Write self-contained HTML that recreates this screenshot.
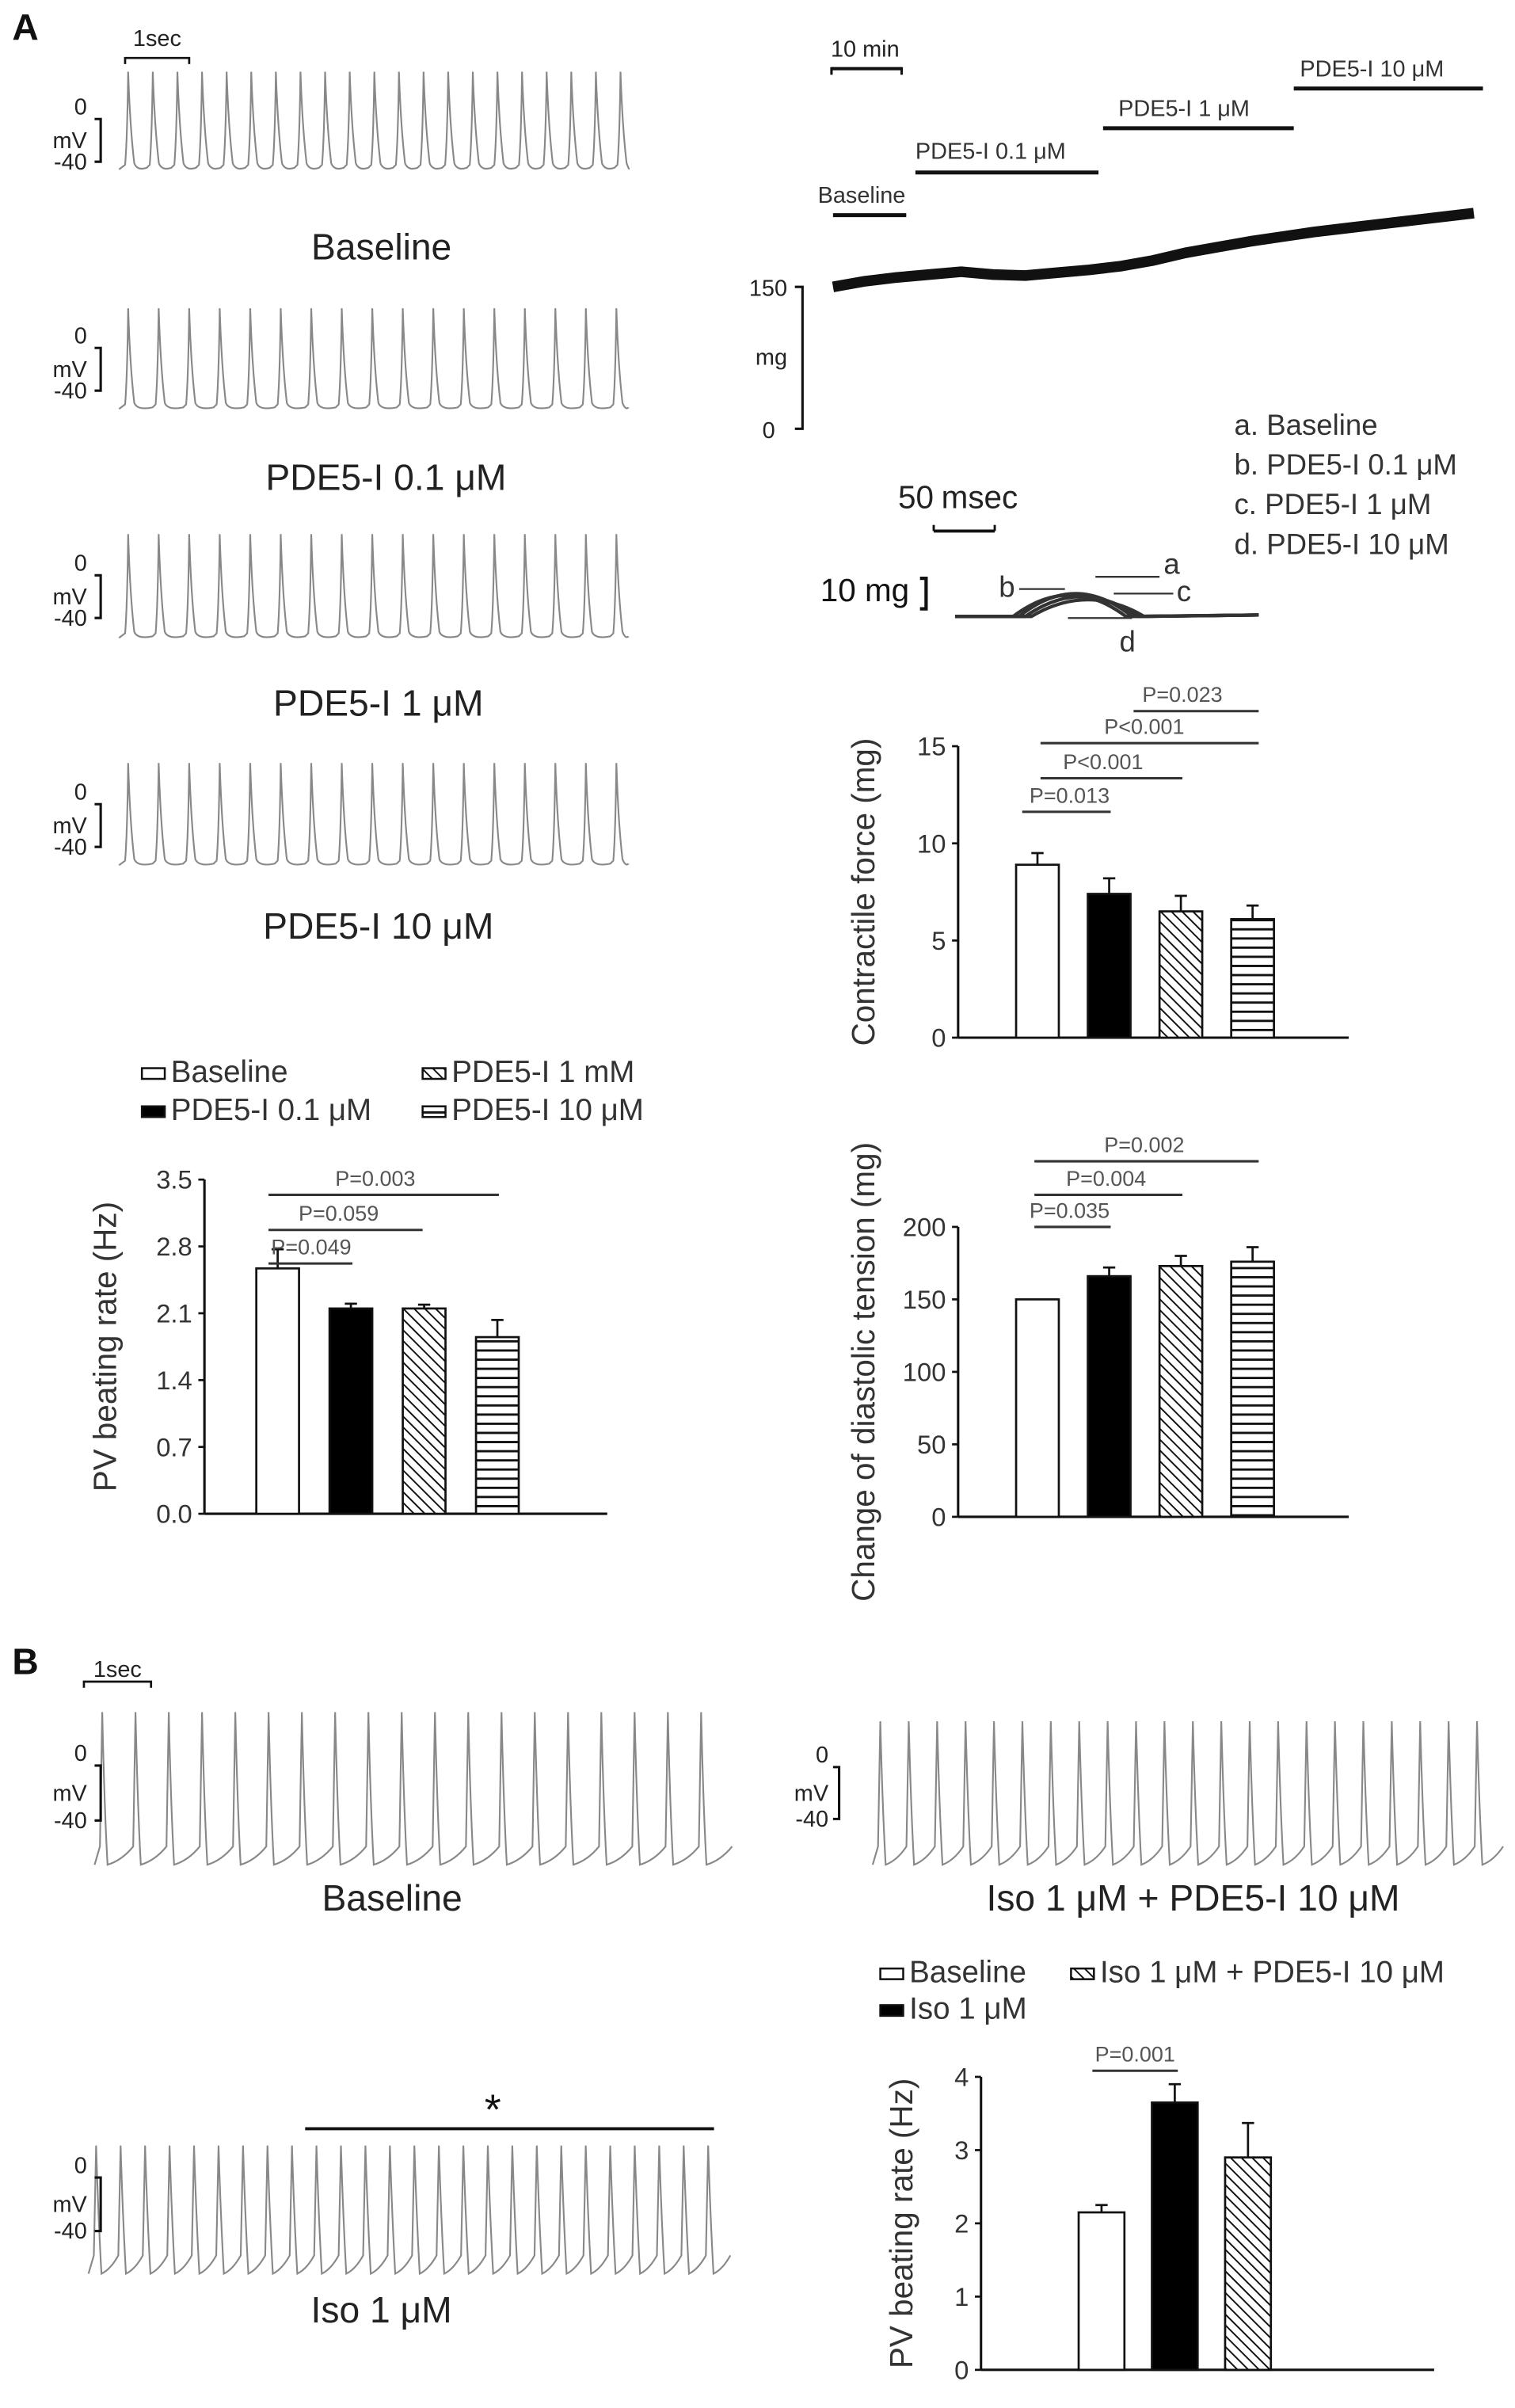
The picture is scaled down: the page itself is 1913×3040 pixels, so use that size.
<!DOCTYPE html>
<html><head><meta charset="utf-8"><style>
html,body{margin:0;padding:0;background:#fff;}
svg{display:block;font-family:"Liberation Sans",Arial,sans-serif;}
</style></head><body>
<svg id="fig" width="1913" height="3040" viewBox="0 0 993 1578" preserveAspectRatio="none" xmlns="http://www.w3.org/2000/svg">
<defs>
<pattern id="diag" patternUnits="userSpaceOnUse" width="5" height="5" patternTransform="rotate(-45)"><rect width="5" height="5" fill="#fff"/><line x1="0" y1="0" x2="0" y2="5" stroke="#111" stroke-width="2"/></pattern>
<pattern id="hstripe" patternUnits="userSpaceOnUse" width="6" height="6"><rect width="6" height="6" fill="#fff"/><line x1="0" y1="3" x2="6" y2="3" stroke="#111" stroke-width="1.5"/></pattern>
</defs>
<g id="root"></g>
</svg>
<script>
// ---------- data ----------
const forceCats=["Baseline","PDE5-I 0.1 μM","PDE5-I 1 μM","PDE5-I 10 μM"];
const forceVals=[8.9,7.4,6.5,6.1];
const forceErr=[0.6,0.8,0.8,0.7];
const forceTicks=[0,5,10,15];
const diaVals=[150,166,173,176];
const diaErr=[0,6,7,10];
const diaTicks=[0,50,100,150,200];
const rateVals=[2.57,2.15,2.15,1.85];
const rateErr=[0.2,0.05,0.04,0.18];
const rateTicks=[0,0.7,1.4,2.1,2.8,3.5];
const isoCats=["Baseline","Iso 1 μM","Iso 1 μM + PDE5-I 10 μM"];
const isoVals=[2.15,3.65,2.9];
const isoErr=[0.1,0.25,0.47];
const isoTicks=[0,1,2,3,4];
const tensionTrend=[150,156,160,163,166,163,162,165,168,172,178,186,192,198,203,208,212,216,220,224,228];

const NS="http://www.w3.org/2000/svg";
const root=document.getElementById('root');
function el(tag,attrs,parent){const e=document.createElementNS(NS,tag);for(const k in attrs)e.setAttribute(k,attrs[k]);(parent||root).appendChild(e);return e;}
function txt(x,y,s,size,anchor,fill,name){const t=el('text',{x:x,y:y,'font-size':size,'text-anchor':anchor||'start',fill:fill||'#222'});t.textContent=s;


return t;}
function line(x1,y1,x2,y2,w,c,name){const l=el('line',{x1:x1,y1:y1,x2:x2,y2:y2,stroke:c||'#111','stroke-width':w||1.5});


return l;}

txt(8,26,"A",24,'start','#111','panel-a-label').setAttribute('font-weight','bold');
txt(8,1097,"B",24,'start','#111','panel-b-label').setAttribute('font-weight','bold');

// ---------- AP traces ----------
function scaleBar(x,yTop,yBot,lx,name){
  const g=el('path',{d:`M${x-4},${yTop} H${x} V${yBot} H${x-4}`,fill:'none',stroke:'#111','stroke-width':1.6});
  
  
  txt(lx,yTop-3,"0",15,'end','#222',name+'-0mv');
  txt(lx,(yTop+yBot)/2+5,"mV",15,'end','#222',name+'-mv');
  txt(lx,yBot+5,"-40",15,'end','#222',name+'-minus40');
}
function apTraceA(x0,x1,n,top,base,name){
  const sp=(x1-x0)/(n-0.3);let d=`M${x0},${base}`;
  for(let i=0;i<n;i++){const xp=x0+6+i*sp;
    d+=` L${xp-2},${base-3} Q${xp-0.6},${base-20} ${xp},${top} Q${xp+1.2},${base-28} ${xp+4},${base-4} Q${xp+6},${base+1} ${Math.min(xp+sp-4,x1)},${base-1}`;}
  const p=el('path',{d:d,fill:'none',stroke:'#888','stroke-width':1.1});
  
  
}
function apTraceB(x0,x1,n,top,base,name){
  const sp=(x1-x0)/(n-0.2);let d=`M${x0},${base}`;
  for(let i=0;i<n;i++){const xp=x0+5+i*sp;
    d+=` L${xp-1.5},${base-12} L${xp},${top} Q${xp+1.5},${base-35} ${xp+3.5},${base} Q${xp+sp*0.6},${base-3} ${xp+sp-1.5},${base-12}`;}
  const p=el('path',{d:d,fill:'none',stroke:'#888','stroke-width':1.1});
  
  
}
el('path',{d:'M82,42 V38 H124 V42',fill:'none',stroke:'#111','stroke-width':1.4});
txt(103,30,"1sec",15,'middle','#222','one-sec-label-a');
apTraceA(78,412,21,47,111,'trace-baseline-a');scaleBar(66,78,106,57,'trace-baseline-a');
txt(250,170,"Baseline",24,'middle','#222','trace-label-baseline');
apTraceA(78,412,17,202,268,'trace-pde-01');scaleBar(66,228,256,57,'trace-pde-01');
txt(253,321,"PDE5-I 0.1 μM",24,'middle','#222','trace-label-pde-01');
apTraceA(78,412,17,350,418,'trace-pde-1');scaleBar(66,377,405,57,'trace-pde-1');
txt(248,469,"PDE5-I 1 μM",24,'middle','#222','trace-label-pde-1');
apTraceA(78,412,17,500,567,'trace-pde-10');scaleBar(66,527,555,57,'trace-pde-10');
txt(248,615,"PDE5-I 10 μM",24,'middle','#222','trace-label-pde-10');

el('path',{d:'M55,1106 V1102 H99 V1106',fill:'none',stroke:'#111','stroke-width':1.4});
txt(77,1099,"1sec",15,'middle','#222','one-sec-label-b');
apTraceB(62,472,19,1122,1222,'trace-b-baseline');scaleBar(66,1157,1193,57,'trace-b-baseline');
txt(257,1252,"Baseline",24,'middle','#222','trace-label-b-baseline');
apTraceB(572,978,22,1128,1222,'trace-b-iso-pde');scaleBar(550,1158,1192,543,'trace-b-iso-pde');
txt(782,1252,"Iso 1 μM + PDE5-I 10 μM",24,'middle','#222','trace-label-iso-pde');
txt(323,1392,"*",28,'middle','#111','significance-star');
line(200,1395,468,1395,2,'#111','star-line');
apTraceB(58,472,26,1406,1490,'trace-b-iso');scaleBar(66,1427,1462,57,'trace-b-iso');
txt(250,1522,"Iso 1 μM",24,'middle','#222','trace-label-iso');

// ---------- Tension time course ----------
line(545,49,545,44,1.6);line(545,45,591,45,2.2,'#111','ten-min-bar');line(591,49,591,44,1.6);
txt(567,37,"10 min",15,'middle','#222','ten-min-label');
const phaseBars=[[546,594,141,"Baseline",536,133],[600,720,113,"PDE5-I 0.1 μM",600,104],[723,848,84,"PDE5-I 1 μM",733,76],[848,972,58,"PDE5-I 10 μM",852,50]];
phaseBars.forEach((b,i)=>{line(b[0],b[2],b[1],b[2],2.6,'#111','phase-bar-'+i);txt(b[4],b[5],b[3],15,'start','#333','phase-label-'+i);});
{const tx0=546,tx1=966,y150=188,y0=281;
 const ty=v=>y0-(v/150)*(y0-y150);
 let d='';tensionTrend.forEach((v,i)=>{const x=tx0+i*(tx1-tx0)/(tensionTrend.length-1);d+=(i?' L':'M')+x+','+ty(v);});
 const p=el('path',{d:d,fill:'none',stroke:'#111','stroke-width':7,'stroke-linejoin':'round'});
 
 
 el('path',{d:`M521,${y150} H526 V${y0} H521`,fill:'none',stroke:'#111','stroke-width':1.6});
 txt(516,y150+6,"150",15,'end','#222','tension-150');
 txt(516,239,"mg",15,'end','#222','tension-mg');
 txt(508,y0+6,"0",15,'end','#222','tension-0');
}
["a. Baseline","b. PDE5-I 0.1 μM","c. PDE5-I 1 μM","d. PDE5-I 10 μM"].forEach((s,i)=>txt(809,285+i*26,s,19,'start','#333','twitch-legend-'+i));
txt(612,333,"50",21,'end','#222','fifty-label');txt(617,333,"msec",21,'start','#222','msec-label');
line(612,348,652,348,2,'#111','fifty-msec-bar');line(612,348,612,344,1.5);line(652,348,652,344,1.5);
txt(596,394,"10 mg",21,'end','#111','ten-mg-label');
el('path',{d:'M603,379 H607 V399 H603',fill:'none',stroke:'#111','stroke-width':2.2});
[[0,0],[4,2],[-4,1],[8,4]].forEach((o,i)=>{const b=404;const p=el('path',{d:`M626,${b} L${668+o[0]},${b} Q${705+o[0]},${b-30+o[1]*2} ${742+o[0]},${b} L825,${b-1}`,fill:'none',stroke:'#333','stroke-width':2.2});
 
 });
txt(768,376,"a",19,'middle','#333','twitch-a');line(718,378,760,378,1.2,'#333');
txt(660,391,"b",19,'middle','#333','twitch-b');line(668,386,698,386,1.2,'#333');
txt(776,394,"c",19,'middle','#333','twitch-c');line(730,389,769,389,1.2,'#333');
txt(739,427,"d",19,'middle','#333','twitch-d');line(700,405,742,405,1.2,'#333');

// ---------- bar charts ----------
const fills=['#fff','#000','url(#diag)','url(#hstripe)'];
function barChart(o){
  const y=v=>o.y0-(v-o.ticks[0])/(o.ticks[o.ticks.length-1]-o.ticks[0])*(o.y0-o.yTop);
  line(o.ax,o.yTop,o.ax,o.y0,1.6,'#111',o.name+'-y-axis');
  line(o.ax,o.y0,o.axEnd,o.y0,1.6,'#111',o.name+'-x-axis');
  o.ticks.forEach((t,i)=>{line(o.ax-4,y(t),o.ax,y(t),1.4,'#111',o.name+'-tick');txt(o.ax-8,y(t)+6,o.tickLabels?o.tickLabels[i]:String(t),17,'end','#333',o.name+'-tick-label');});
  const tt=txt(0,0,o.title,21,'middle','#333',o.name+'-y-title');tt.setAttribute('transform',`translate(${o.titleX},${(o.y0+o.yTop)/2}) rotate(-90)`);
  o.vals.forEach((v,i)=>{const x=o.bx0+i*o.step;
    const r=el('rect',{x:x,y:y(v),width:o.bw,height:o.y0-y(v),fill:o.fills[i],stroke:'#111','stroke-width':1.4});
    
    
    if(o.err[i]>0){line(x+o.bw/2,y(v),x+o.bw/2,y(v+o.err[i]),1.4,'#111',o.name+'-error-'+i);line(x+o.bw/2-4,y(v+o.err[i]),x+o.bw/2+4,y(v+o.err[i]),1.4,'#111',o.name+'-error-cap-'+i);}
  });
  o.sig.forEach((s,i)=>{line(s[0],s[2],s[1],s[2],1.6,'#333',o.name+'-sig-line-'+i);txt(s[3],s[2]-6,s[4],14,'middle','#555',o.name+'-sig-label-'+i);});
}
barChart({name:'force',vals:forceVals,err:forceErr,ticks:forceTicks,ax:628,axEnd:884,y0:680,yTop:489,bx0:666,step:47,bw:28,fills:fills,titleX:573,title:"Contractile force (mg)",
 sig:[[670,728,532,701,"P=0.013"],[682,775,510,723,"P<0.001"],[682,825,487,750,"P<0.001"],[743,825,466,775,"P=0.023"]]});
barChart({name:'diastolic',vals:diaVals,err:diaErr,ticks:diaTicks,ax:628,axEnd:884,y0:994,yTop:804,bx0:666,step:47,bw:28,fills:fills,titleX:573,title:"Change of diastolic tension (mg)",
 sig:[[678,728,804,701,"P=0.035"],[678,775,783,725,"P=0.004"],[678,825,761,750,"P=0.002"]]});
barChart({name:'rate-a',vals:rateVals,err:rateErr,ticks:rateTicks,tickLabels:rateTicks.map(t=>t.toFixed(1)),ax:134,axEnd:398,y0:992,yTop:773,bx0:168,step:48,bw:28,fills:fills,titleX:76,title:"PV beating rate (Hz)",
 sig:[[176,231,828,204,"P=0.049"],[176,277,806,222,"P=0.059"],[176,327,783,246,"P=0.003"]]});
barChart({name:'rate-b',vals:isoVals,err:isoErr,ticks:isoTicks,ax:643,axEnd:940,y0:1553,yTop:1361,bx0:707,step:48,bw:30,fills:['#fff','#000','url(#diag)'],titleX:598,title:"PV beating rate (Hz)",
 sig:[[716,772,1357,744,"P=0.001"]]});

function legendItem(x,y,fill,label,name){
  const r=el('rect',{x:x,y:y-9,width:15,height:7,fill:fill,stroke:'#111','stroke-width':1.3});
  
  
  txt(x+19,y,label,20,'start','#333',name);
}
legendItem(93,709,'#fff',"Baseline",'legend-a-baseline');
legendItem(93,734,'#000',"PDE5-I 0.1 μM",'legend-a-pde-01');
legendItem(277,709,'url(#diag)',"PDE5-I 1 mM",'legend-a-pde-1');
legendItem(277,734,'url(#hstripe)',"PDE5-I 10 μM",'legend-a-pde-10');
legendItem(577,1299,'#fff',"Baseline",'legend-b-baseline');
legendItem(577,1323,'#000',"Iso 1 μM",'legend-b-iso');
legendItem(702,1299,'url(#diag)',"Iso 1 μM + PDE5-I 10 μM",'legend-b-iso-pde');
</script>
</body></html>
